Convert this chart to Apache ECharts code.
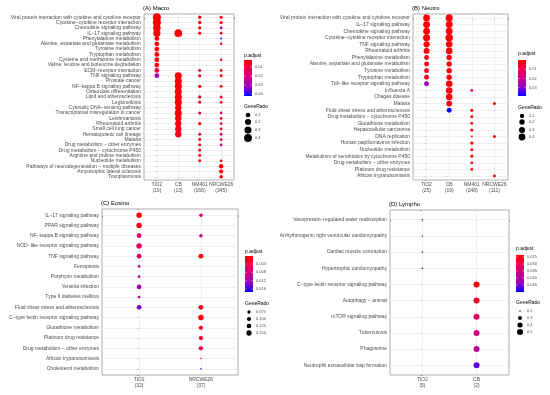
<!DOCTYPE html>
<html><head><meta charset="utf-8">
<script src="https://cdn.jsdelivr.net/npm/echarts@6/dist/echarts.min.js"></script>
<style>html,body{margin:0;padding:0;background:#fff}#c{width:550px;height:395px}</style>
</head><body><div id="c"></div>
<script>
// ---------------- DATA ----------------
const macroRows = ['Viral protein interaction with cytokine and cytokine receptor','Cytokine−cytokine receptor interaction','Chemokine signaling pathway','IL−17 signaling pathway','Phenylalanine metabolism','Alanine, aspartate and glutamate metabolism','Tyrosine metabolism','Tryptophan metabolism','Cysteine and methionine metabolism','Valine, leucine and isoleucine degradation','ECM−receptor interaction','TNF signaling pathway','Prostate cancer','NF−kappa B signaling pathway','Osteoclast differentiation','Lipid and atherosclerosis','Legionellosis','Cytosolic DNA−sensing pathway','Transcriptional misregulation in cancer','Leishmaniasis','Rheumatoid arthritis','Small cell lung cancer','Hematopoietic cell lineage','Malaria','Drug metabolism − other enzymes','Drug metabolism − cytochrome P450','Arginine and proline metabolism','Nucleotide metabolism','Pathways of neurodegeneration − multiple diseases','Amyotrophic lateral sclerosis','Toxoplasmosis'];
const macroCols = ['TiO2\n(19)','CB\n(13)','NM401\n(166)','NRCWE26\n(345)'];
// [column, row, GeneRatio, p.adjust]
const macroPoints = [
 [0,0,0.42,0.002],[0,1,0.42,0.002],[0,2,0.37,0.002],[0,3,0.32,0.003],[0,4,0.105,0.003],[0,5,0.105,0.003],[0,6,0.105,0.003],[0,7,0.105,0.003],[0,8,0.105,0.004],[0,9,0.105,0.004],[0,10,0.105,0.009],[0,11,0.105,0.03],
 [1,3,0.38,0.002],[1,11,0.31,0.002],[1,12,0.31,0.002],[1,13,0.31,0.002],[1,14,0.31,0.002],[1,15,0.31,0.003],[1,16,0.31,0.003],[1,17,0.23,0.003],[1,18,0.31,0.003],[1,19,0.23,0.003],[1,20,0.23,0.004],[1,21,0.23,0.005],[1,22,0.23,0.006],
 [2,0,0.036,0.003],[2,1,0.036,0.003],[2,2,0.03,0.004],[2,3,0.03,0.004],[2,10,0.024,0.01],[2,11,0.03,0.006],[2,13,0.03,0.005],[2,15,0.036,0.01],[2,16,0.024,0.006],[2,18,0.03,0.012],[2,20,0.03,0.004],[2,22,0.024,0.008],[2,23,0.024,0.006],[2,24,0.024,0.004],[2,25,0.024,0.004],[2,26,0.024,0.004],[2,27,0.024,0.004],
 [3,0,0.026,0.004],[3,1,0.03,0.004],[3,2,0.023,0.025],[3,3,0.02,0.008],[3,4,0.01,0.042],[3,5,0.014,0.006],[3,8,0.014,0.006],[3,10,0.02,0.006],[3,11,0.023,0.004],[3,13,0.023,0.004],[3,15,0.026,0.005],[3,16,0.02,0.006],[3,18,0.02,0.02],[3,19,0.02,0.01],[3,20,0.02,0.012],[3,21,0.02,0.01],[3,22,0.02,0.014],[3,23,0.02,0.014],[3,24,0.02,0.02],[3,27,0.02,0.005],[3,28,0.085,0.002],[3,29,0.07,0.003],[3,30,0.045,0.004]
];
const macroPTicks = [0.01,0.02,0.03,0.04];
const macroRatioTicks = [0.1,0.2,0.3,0.4];

const neutroRows = ['Viral protein interaction with cytokine and cytokine receptor','IL−17 signaling pathway','Chemokine signaling pathway','Cytokine−cytokine receptor interaction','TNF signaling pathway','Rheumatoid arthritis','Phenylalanine metabolism','Alanine, aspartate and glutamate metabolism','Tyrosine metabolism','Tryptophan metabolism','Toll−like receptor signaling pathway','Influenza A','Chagas disease','Malaria','Fluid shear stress and atherosclerosis','Drug metabolism − cytochrome P450','Glutathione metabolism','Hepatocellular carcinoma','DNA replication','Human papillomavirus infection','Nucleotide metabolism','Metabolism of xenobiotics by cytochrome P450','Drug metabolism − other enzymes','Platinum drug resistance','African trypanosomiasis'];
const neutroCols = ['TiO2\n(25)','CB\n(19)','NM401\n(248)','NRCWE26\n(111)'];
const neutroPoints = [
 [0,0,0.40,0.001],[0,1,0.40,0.001],[0,2,0.40,0.001],[0,3,0.44,0.001],[0,4,0.32,0.001],[0,5,0.28,0.002],[0,6,0.16,0.002],[0,7,0.16,0.003],[0,8,0.16,0.004],[0,9,0.16,0.005],[0,10,0.16,0.028],
 [1,0,0.47,0.001],[1,1,0.42,0.001],[1,2,0.42,0.001],[1,3,0.53,0.001],[1,4,0.37,0.001],[1,5,0.37,0.001],[1,6,0.21,0.002],[1,7,0.21,0.002],[1,8,0.21,0.002],[1,9,0.21,0.002],[1,10,0.37,0.001],[1,11,0.37,0.001],[1,12,0.37,0.001],[1,13,0.26,0.002],[1,14,0.16,0.039],
 [2,11,0.02,0.008],[2,14,0.03,0.002],[2,15,0.025,0.002],[2,16,0.025,0.002],[2,17,0.03,0.003],[2,18,0.012,0.004],[2,19,0.04,0.002],[2,20,0.03,0.003],[2,21,0.025,0.003],[2,22,0.025,0.003],[2,23,0.02,0.003],
 [3,13,0.03,0.002],[3,18,0.03,0.002],[3,24,0.025,0.003]
];
const neutroPTicks = [0.01,0.02,0.03];
const neutroRatioTicks = [0.1,0.2,0.3,0.4];

const eosinoRows = ['IL−17 signaling pathway','PPAR signaling pathway','NF−kappa B signaling pathway','NOD−like receptor signaling pathway','TNF signaling pathway','Ferroptosis','Porphyrin metabolism','Yersinia infection','Type II diabetes mellitus','Fluid shear stress and atherosclerosis','C−type lectin receptor signaling pathway','Glutathione metabolism','Platinum drug resistance','Drug metabolism − other enzymes','African trypanosomiasis','Cholesterol metabolism'];
const eosinoCols = ['TiO2\n(32)','NRCWE26\n(37)'];
const eosinoPoints = [
 [0,0,0.156,0.0005],[0,1,0.156,0.001],[0,2,0.125,0.006],[0,3,0.156,0.005],[0,4,0.125,0.006],[0,5,0.0625,0.009],[0,6,0.0625,0.009],[0,7,0.125,0.012],[0,8,0.0625,0.011],[0,9,0.125,0.014],
 [1,0,0.081,0.008],[1,2,0.081,0.009],[1,4,0.135,0.001],[1,9,0.135,0.002],[1,10,0.162,0.0005],[1,11,0.108,0.002],[1,12,0.108,0.003],[1,13,0.108,0.004],[1,14,0.054,0.009],[1,15,0.054,0.017]
];
const eosinoPTicks = [0.004,0.008,0.012,0.016];
const eosinoRatioTicks = [0.075,0.100,0.125,0.150];

const lymphoRows = ['Vasopressin−regulated water reabsorption','Arrhythmogenic right ventricular cardiomyopathy','Cardiac muscle contraction','Hypertrophic cardiomyopathy','C−type lectin receptor signaling pathway','Autophagy − animal','mTOR signaling pathway','Tuberculosis','Phagosome','Neutrophil extracellular trap formation'];
const lymphoCols = ['TiO2\n(5)','CB\n(2)'];
const lymphoPoints = [
 [0,0,0.2,0.0237],[0,1,0.2,0.040],[0,2,0.2,0.045],[0,3,0.2,0.049],
 [1,4,0.5,0.0237],[1,5,0.5,0.028],[1,6,0.5,0.032],[1,7,0.5,0.036],[1,8,0.5,0.039],[1,9,0.5,0.046]
];
const lymphoPTicks = [0.025,0.030,0.035,0.040,0.045];
const lymphoRatioTicks = [0.2,0.3,0.4,0.5];

// ---------------- LAYOUT / STYLE ----------------
const FONT = '"Liberation Sans", Arial, sans-serif';
const GRAD = ['#FF0000','#E8004F','#C90089','#9A00C3','#0000FF'];
const panels = [
 {title:'(A) Macro', rows:macroRows, cols:macroCols, pts:macroPoints, box:[144,14,234,180], p:[0.0022,0.0422], pt:macroPTicks, pfmt:v=>v.toFixed(2), r:[0.01,0.42], s:[1.8,8], rt:macroRatioTicks, rfmt:v=>v.toFixed(1), leg:[244,56], bar:[60,96], dots:[115,122,130,138]},
 {title:'(B) Neutro', rows:neutroRows, cols:neutroCols, pts:neutroPoints, box:[413,14,508,180], p:[0.0000,0.0389], pt:neutroPTicks, pfmt:v=>v.toFixed(2), r:[0.012,0.53], s:[2,7.5], rt:neutroRatioTicks, rfmt:v=>v.toFixed(1), leg:[518,54], bar:[60,96], dots:[116,122,130,137]},
 {title:'(C) Eosino', rows:eosinoRows, cols:eosinoCols, pts:eosinoPoints, box:[102,209,238,375], p:[0.00016,0.01744], pt:eosinoPTicks, pfmt:v=>v.toFixed(3), r:[0.054,0.162], s:[1.5,5.5], rt:eosinoRatioTicks, rfmt:v=>v.toFixed(3), leg:[245,252], bar:[256,292], dots:[312,319,326,333]},
 {title:'(D) Lympho', rows:lymphoRows, cols:lymphoCols, pts:lymphoPoints, box:[390,210,509,375], p:[0.0236,0.050], pt:lymphoPTicks, pfmt:v=>v.toFixed(3), r:[0.2,0.5], s:[1.5,6], rt:lymphoRatioTicks, rfmt:v=>v.toFixed(1), leg:[516,249], bar:[255,292], dots:[311,318,325,332]}
];

function sizeOf(P, ratio){
  const t = Math.max(0, Math.min(1, (ratio - P.r[0])/(P.r[1]-P.r[0])));
  return P.s[0] + (P.s[1]-P.s[0])*Math.sqrt(t);
}

const chart = echarts.init(document.getElementById('c'), null, {renderer:'canvas'});
const grid=[], xAxis=[], yAxis=[], series=[], visualMap=[], graphic=[];

panels.forEach((P,i)=>{
  const [x0,y0,x1,y1] = P.box;
  grid.push({left:x0, top:y0, width:x1-x0, height:y1-y0, show:true, borderColor:'#9a9a9a', borderWidth:0.8, backgroundColor:'#fff', containLabel:false});
  const nc = P.cols.length, nr = P.rows.length;
  xAxis.push({type:'value', gridIndex:i, min:-0.6, max:nc-0.4, minInterval:1, maxInterval:1, splitNumber:nc+1,
    axisLine:{show:false}, splitLine:{show:false},
    axisTick:{show:true, length:2, lineStyle:{color:'#555', width:0.5}},
    axisLabel:{fontSize:5, fontFamily:FONT, color:'#4D4D4D', margin:2, lineHeight:6,
      formatter:v=> (Math.abs(v-Math.round(v))<1e-6 && v>=0 && v<nc) ? P.cols[Math.round(v)] : ''}});
  yAxis.push({type:'value', gridIndex:i, inverse:true, min:-0.6, max:nr-0.4, minInterval:1, maxInterval:1, splitNumber:nr+1,
    axisLine:{show:false}, splitLine:{show:false},
    axisTick:{show:true, length:2, lineStyle:{color:'#555', width:0.5}},
    axisLabel:{fontSize:5, fontFamily:FONT, color:'#4D4D4D', margin:3,
      formatter:v=> (Math.abs(v-Math.round(v))<1e-6 && v>=0 && v<nr) ? P.rows[Math.round(v)] : ''}});
  const gl = [];
  for(let c=0;c<nc;c++) gl.push({xAxis:c});
  for(let r=0;r<nr;r++) gl.push({yAxis:r});
  series.push({type:'scatter', xAxisIndex:i, yAxisIndex:i, data:P.pts, z:3,
    encode:{x:0,y:1},
    symbolSize:(val)=>sizeOf(P,val[2]),
    itemStyle:{opacity:1},
    markLine:{silent:true, symbol:'none', z:1, label:{show:false}, animation:false,
      lineStyle:{color:'#E6E6E6', width:0.6, type:'solid'}, emphasis:{disabled:true}, data:gl}
  });
  visualMap.push({type:'continuous', show:false, seriesIndex:i, dimension:3, min:P.p[0], max:P.p[1], inRange:{color:GRAD}});

  graphic.push({type:'text', x:x0-1, y:y0-6, style:{text:P.title, font:'6px '+FONT, fill:'#000', align:'left', verticalAlign:'middle'}});
  const [lx,ly] = P.leg;
  graphic.push({type:'text', x:lx, y:ly, style:{text:'p.adjust', font:'5px '+FONT, fill:'#000', align:'left', verticalAlign:'middle'}});
  const [b0,b1] = P.bar;
  graphic.push({type:'rect', shape:{x:lx, y:b0, width:8, height:b1-b0},
    style:{fill:new echarts.graphic.LinearGradient(0,0,0,1, GRAD.map((c,k)=>({offset:k/(GRAD.length-1), color:c})))}});
  P.pt.forEach(v=>{
    const yy = b0 + (v-P.p[0])/(P.p[1]-P.p[0])*(b1-b0);
    graphic.push({type:'line', shape:{x1:lx, y1:yy, x2:lx+1.5, y2:yy}, style:{stroke:'#fff', lineWidth:0.5}});
    graphic.push({type:'line', shape:{x1:lx+6.5, y1:yy, x2:lx+8, y2:yy}, style:{stroke:'#fff', lineWidth:0.5}});
    graphic.push({type:'text', x:lx+11, y:yy, style:{text:P.pfmt(v), font:'4px '+FONT, fill:'#4D4D4D', align:'left', verticalAlign:'middle'}});
  });
  graphic.push({type:'text', x:lx, y:P.dots[0]-8, style:{text:'GeneRatio', font:'5px '+FONT, fill:'#000', align:'left', verticalAlign:'middle'}});
  P.rt.forEach((v,k)=>{
    const yy = P.dots[k];
    graphic.push({type:'circle', shape:{cx:lx+4, cy:yy, r:sizeOf(P,v)/2}, style:{fill:'#000'}});
    graphic.push({type:'text', x:lx+11, y:yy, style:{text:P.rfmt(v), font:'4px '+FONT, fill:'#4D4D4D', align:'left', verticalAlign:'middle'}});
  });
});

chart.setOption({animation:false, backgroundColor:'#fff', grid, xAxis, yAxis, series, visualMap, graphic});
</script></body></html>
